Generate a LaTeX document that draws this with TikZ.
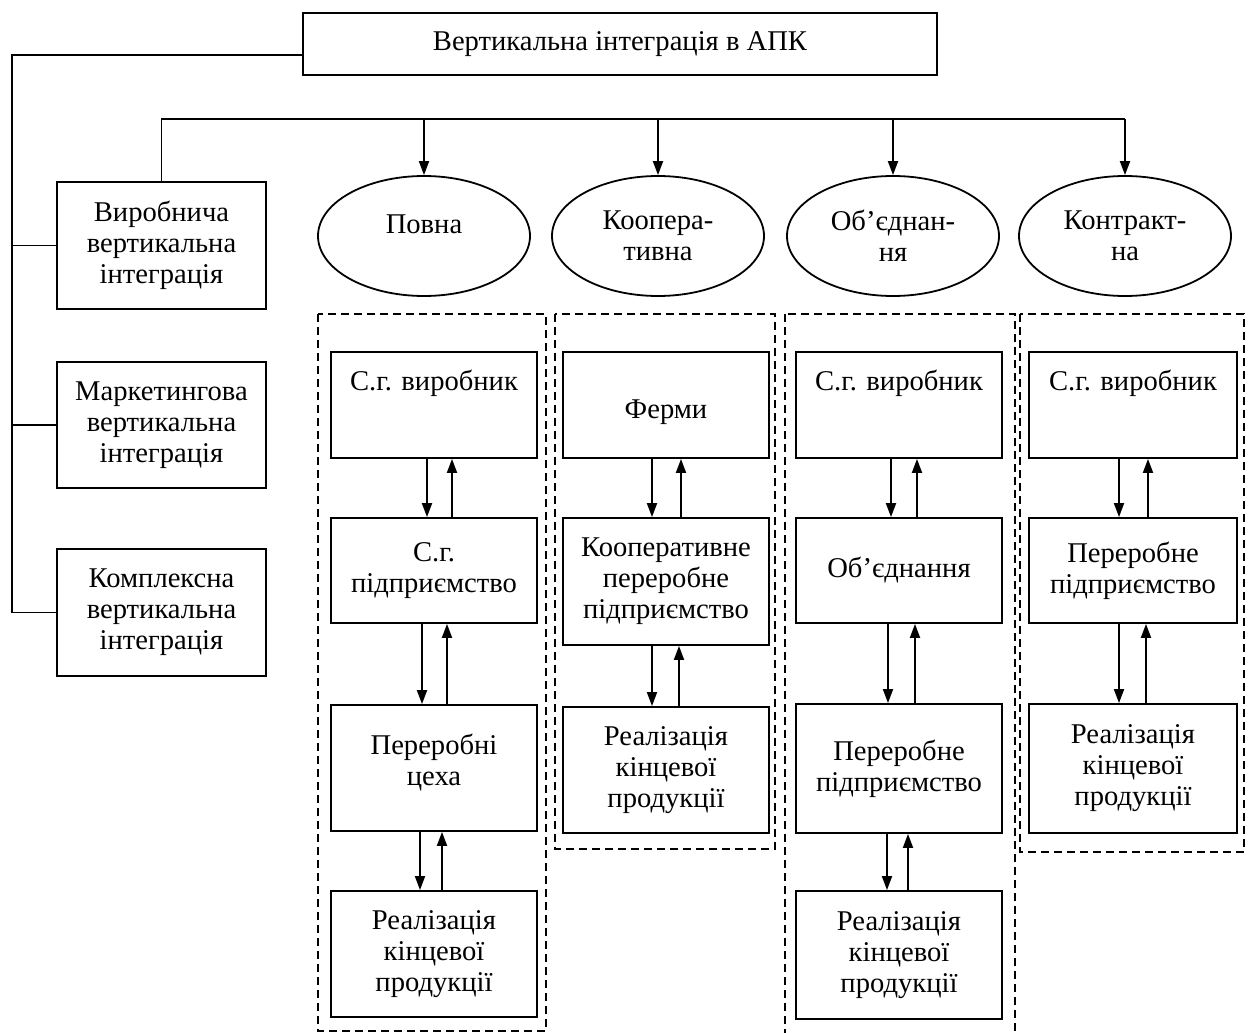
\documentclass[tikz,border=0pt]{standalone}
\usepackage{fontspec}
\setmainfont{Liberation Serif}
\usetikzlibrary{shapes.geometric,arrows.meta}

\begin{document}
\begin{tikzpicture}[x=0.5pt,y=-0.5pt,line width=0.9pt,
    every node/.style={font=\fontsize{14.3}{15.5}\selectfont, align=center},
    blk/.style={draw, rectangle, minimum width=103pt, inner sep=2pt},
    ovl/.style={draw, ellipse, minimum width=106pt, minimum height=60pt, inner sep=0pt},
    grp/.style={dash pattern=on 4pt off 2.5pt, line width=0.75pt},
    arr/.style={-{Triangle[length=7pt,width=5pt]}},
    toptext/.style={text depth=25pt}]
    \useasboundingbox (0,0) rectangle (1250,1033);

    % top and left column
    \node[blk, minimum width=317pt, minimum height=31pt] (top) at (620,44) {Вертикальна інтеграція в АПК};
    \node[blk, minimum width=104.5pt, minimum height=63.5pt] (vyrob) at (161.5,245.5) {Виробнича\\вертикальна\\інтеграція};
    \node[blk, minimum width=104.5pt, minimum height=63pt] (market) at (161.5,425) {Маркетингова\\вертикальна\\інтеграція};
    \node[blk, minimum width=104.5pt, minimum height=63.5pt] (kompl) at (161.5,612.5) {Комплексна\\вертикальна\\інтеграція};

    % forms
    \node[ovl, text depth=12pt] (povna) at (424,236) {Повна};
    \node[ovl] (koop) at (658,236) {Коопера-\\тивна};
    \node[ovl] (obyed) at (893,236) {Об’єднан-\\ня};
    \node[ovl] (kontr) at (1125,236) {Контракт-\\на};

    % dashed frames
    \draw[grp] (318,314) rectangle (546,1031);
    \draw[grp] (555,314) rectangle (775,849);
    \draw[grp] (785,314) rectangle (1015,1045);
    \draw[grp] (1020,314) rectangle (1244,852);

    % chains
    \node[blk, minimum height=53pt, toptext] (p1) at (434,405) {С.г. виробник};
    \node[blk, minimum height=52.5pt] (p2) at (434,570.5) {С.г.\\підприємство};
    \node[blk, minimum height=63pt, text depth=8pt] (p3) at (434,768) {Переробні\\цеха};
    \node[blk, minimum height=63pt] (p4) at (434,954) {Реалізація\\кінцевої\\продукції};

    \node[blk, minimum height=53pt, text height=17pt] (k1) at (666,405) {Ферми};
    \node[blk, minimum height=63.5pt] (k2) at (666,581.5) {Кооперативне\\переробне\\підприємство};
    \node[blk, minimum height=63pt] (k3) at (666,770) {Реалізація\\кінцевої\\продукції};

    \node[blk, minimum height=53pt, toptext] (o1) at (899,405) {С.г. виробник};
    \node[blk, minimum height=52.5pt] (o2) at (899,570.5) {Об’єднання};
    \node[blk, minimum height=64.5pt] (o3) at (899,768.5) {Переробне\\підприємство};
    \node[blk, minimum height=64pt] (o4) at (899,955) {Реалізація\\кінцевої\\продукції};

    \node[blk, minimum width=104pt, minimum height=53pt, toptext] (c1) at (1133,405) {С.г. виробник};
    \node[blk, minimum width=104pt, minimum height=52.5pt] (c2) at (1133,570.5) {Переробне\\підприємство};
    \node[blk, minimum width=104pt, minimum height=64.5pt] (c3) at (1133,768.5) {Реалізація\\кінцевої\\продукції};

    \foreach \a/\b/\l/\r in {p1/p2/-7/18, p2/p3/-12/13, p3/p4/-14/8, k1/k2/-14/15, k2/k3/-14/13,
        o1/o2/-8/18, o2/o3/-11/16, o3/o4/-12/9, c1/c2/-14/15, c2/c3/-14/13} {
      \draw[arr] ([xshift=\l*0.5pt]\a.south) -- ([xshift=\l*0.5pt]\b.north);
      \draw[arr] ([xshift=\r*0.5pt]\b.north) -- ([xshift=\r*0.5pt]\a.south);
    }

    % links
    \draw (kompl.west) -- ++(-44,0) |- ([yshift=-5.5pt]top.west);
    \draw (vyrob.west) -- ++(-44,0);
    \draw (market.west) -- ++(-44,0);
    \coordinate (bus) at (0,119);
    \draw (vyrob.north) |- (kontr.north |- bus);
    \foreach \e in {povna,koop,obyed,kontr} \draw[arr] (\e.north |- bus) -- (\e.north);
\end{tikzpicture}
\end{document}
